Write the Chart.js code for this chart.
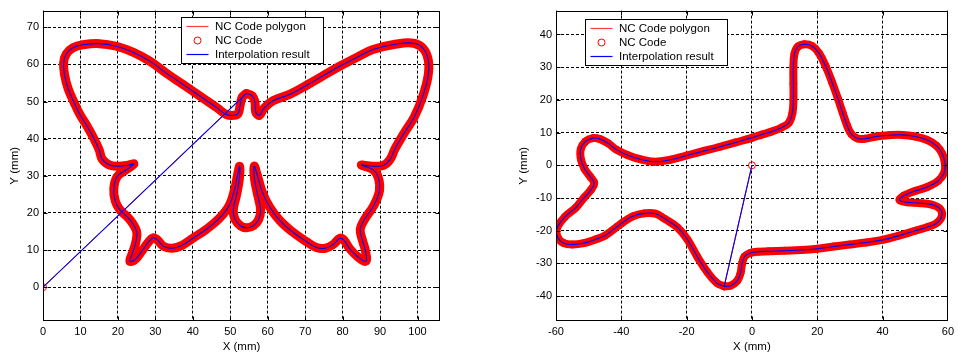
<!DOCTYPE html>
<html><head><meta charset="utf-8">
<script src="https://cdn.jsdelivr.net/npm/chart.js@4.4.1/dist/chart.umd.min.js"></script>
<style>
html,body{margin:0;padding:0;background:#fff;overflow:hidden;}
#c1{position:absolute;left:0;top:0;}
#c2{position:absolute;left:480px;top:0;}
</style></head><body>
<canvas id="c1" width="480" height="354"></canvas>
<canvas id="c2" width="478" height="354"></canvas>
<script>
// ---------- data ----------
const legendLabels = ['NC Code polygon', 'NC Code', 'Interpolation result'];
const origin = [0, 0];

// Butterfly contour (left chart)
const bfX = [54.3,53.2,52.6,52.1,51.0,49.0,46.5,44.5,41.0,37.4,33.0,28.5,24.0,19.6,15.0,10.7,8.0,6.2,5.5,5.8,6.7,8.2,9.8,11.7,13.4,15.0,15.8,17.8,20.0,22.5,24.3,22.0,19.8,18.9,19.3,20.5,23.2,25.0,24.8,24.0,23.2,24.5,26.3,28.2,29.4,30.5,32.2,34.5,37.0,40.2,43.6,47.0,49.7,51.2,51.9,52.5,52.4,51.6,50.8,51.3,52.8,54.4,56.2,57.6,58.1,57.4,56.5,56.4,57.2,58.6,60.4,63.2,66.5,70.3,73.0,75.4,77.6,79.3,80.4,81.8,83.8,86.2,86.1,85.3,84.7,86.0,88.2,89.8,89.6,88.2,85.0,88.0,90.8,92.6,94.0,96.3,99.2,101.4,102.8,102.9,101.6,99.0,94.4,88.1,84.0,79.2,74.5,70.4,66.0,61.4,59.0,57.8,56.8,56.6,55.8];
const bfY = [52.2,51.2,48.8,46.8,46.3,46.5,48.3,49.7,52.1,54.6,57.6,60.9,63.3,64.9,65.6,65.3,64.5,62.8,60.4,57.0,53.5,50.0,46.6,43.5,40.4,37.0,34.5,32.9,32.6,32.8,33.2,31.5,29.8,26.5,23.2,20.9,18.2,15.0,12.2,9.5,7.0,7.4,9.6,12.2,13.3,12.8,11.0,10.5,11.2,13.3,15.6,18.5,22.0,26.5,30.0,32.6,29.0,24.5,20.8,18.2,16.5,16.0,16.6,18.3,20.8,24.5,29.0,32.6,30.2,25.5,21.8,18.0,15.0,12.3,10.7,10.5,11.6,13.2,12.6,10.5,8.4,7.0,9.8,12.6,15.6,18.5,21.8,25.8,29.3,31.6,32.9,32.6,32.8,34.3,37.3,41.3,46.0,51.4,56.8,61.0,64.2,65.7,65.5,64.0,62.0,59.5,56.8,54.4,52.0,50.2,48.2,46.3,47.2,49.8,51.6];

// Star-like contour (right chart)
const stX = [-8.5,-6.5,-4.5,-3.5,-3.0,-2.2,-0.5,2.0,5.0,10.0,15.0,20.0,25.0,30.0,35.0,40.0,45.0,50.0,54.0,56.8,58.2,57.5,55.0,51.0,47.5,45.2,46.5,49.5,53.5,57.0,58.9,59.1,58.3,56.5,53.5,50.0,46.0,42.0,38.0,34.5,32.3,30.5,29.2,27.8,26.3,24.5,22.5,20.5,18.4,16.0,14.0,13.0,12.7,12.7,12.7,12.4,11.3,9.0,6.0,3.0,0.0,-5.0,-10.0,-15.0,-20.0,-25.0,-29.8,-34.0,-38.0,-41.5,-44.0,-46.5,-48.7,-51.0,-52.4,-52.4,-51.3,-49.5,-48.3,-49.3,-51.5,-54.0,-57.3,-59.8,-59.4,-57.6,-55.0,-51.5,-48.0,-45.0,-40.0,-36.5,-33.0,-29.5,-26.8,-22.8,-19.8,-16.7,-13.7,-10.7];
const stY = [-37.0,-36.8,-35.3,-33.0,-30.0,-27.8,-26.8,-26.4,-26.3,-26.1,-25.9,-25.5,-24.8,-24.2,-23.6,-22.8,-21.5,-20.0,-18.8,-17.5,-15.3,-13.2,-12.0,-11.5,-11.3,-10.6,-9.3,-8.0,-6.7,-4.8,-2.2,0.5,3.5,6.0,7.8,8.8,9.3,9.2,8.8,8.1,8.2,9.5,12.0,16.0,20.5,25.5,30.5,34.3,36.5,37.0,36.2,34.0,30.0,25.0,20.0,16.0,13.0,11.5,10.3,9.4,8.4,7.0,5.6,4.3,3.0,1.7,1.1,1.8,3.1,4.8,6.7,8.0,8.3,7.3,5.0,2.0,-1.0,-3.5,-5.4,-7.5,-10.0,-13.0,-15.8,-19.5,-22.2,-23.8,-24.2,-23.8,-22.7,-21.5,-17.8,-15.6,-14.7,-14.8,-16.3,-19.0,-22.6,-28.0,-32.6,-36.0];

// Tick labels
const leftXTicks = [0,10,20,30,40,50,60,70,80,90,100];
const leftYTicks = [0,10,20,30,40,50,60,70];
const rightXTicks = [-60,-40,-20,0,20,40,60];
const rightYTicks = [-40,-30,-20,-10,0,10,20,30,40];

// ---------- helpers ----------
Chart.defaults.font.family = '"Liberation Sans", Arial, Helvetica, sans-serif';
Chart.defaults.color = '#000';

function pathWithLead(xs, ys) {
  const loop = xs.map((x, i) => ({x: x, y: ys[i]}));
  loop.push({x: xs[0], y: ys[0]});
  return [{x: origin[0], y: origin[1]}, {x: xs[0], y: ys[0]}].concat(loop);
}

function makeDatasets(xs, ys, band) {
  const data = pathWithLead(xs, ys);
  return [
    { label: legendLabels[0], data: data, showLine: true, borderColor: '#ff0000', borderWidth: 1,
      pointRadius: 0, tension: 0.4, order: 1 },
    { label: legendLabels[1], data: data, showLine: true, borderColor: '#ff0000', borderWidth: band,
      borderJoinStyle: 'round', borderCapStyle: 'round', tension: 0.4,
      pointRadius: 3.5, pointBorderWidth: 1, pointBorderColor: '#ff0000', pointBackgroundColor: 'rgba(0,0,0,0)',
      segment: { borderColor: c => c.p0DataIndex === 0 ? 'rgba(0,0,0,0)' : '#ff0000' }, order: 2 },
    { label: legendLabels[2], data: data, showLine: true, borderColor: '#0000ff', borderWidth: 1.1,
      pointRadius: 0, tension: 0.4, order: 0 }
  ];
}

const frameLegend = {
  id: 'frameLegend',
  afterDraw(chart, args, opts) {
    const ctx = chart.ctx, a = chart.chartArea;
    ctx.save();
    ctx.setLineDash([]);
    ctx.strokeStyle = '#000';
    ctx.lineWidth = 1;
    const l = Math.round(a.left) + 0.5, t = Math.round(a.top) + 0.5;
    const r = Math.round(a.right) - 0.5, b = Math.round(a.bottom) - 0.5;
    ctx.strokeRect(l, t, r - l, b - t);
    // inward tick marks on all four sides
    const tl = 4;
    ctx.beginPath();
    chart.scales.x.ticks.forEach(tk => {
      const px = Math.round(chart.scales.x.getPixelForValue(tk.value)) + 0.5;
      if (px < l + 1 || px > r - 1) return;
      ctx.moveTo(px, b); ctx.lineTo(px, b - tl);
      ctx.moveTo(px, t); ctx.lineTo(px, t + tl);
    });
    chart.scales.y.ticks.forEach(tk => {
      const py = Math.round(chart.scales.y.getPixelForValue(tk.value)) + 0.5;
      if (py < t + 1 || py > b - 1) return;
      ctx.moveTo(l, py); ctx.lineTo(l + tl, py);
      ctx.moveTo(r, py); ctx.lineTo(r - tl, py);
    });
    ctx.stroke();
    // legend box
    const bx = opts.box;
    ctx.fillStyle = '#fff';
    ctx.fillRect(bx.x, bx.y, bx.w, bx.h);
    ctx.strokeRect(bx.x, bx.y, bx.w, bx.h);
    const rows = [9, 23, 37];
    ctx.font = '11.5px "Liberation Sans", Arial, sans-serif';
    ctx.textBaseline = 'middle';
    ctx.textAlign = 'left';
    chart.data.datasets.forEach((ds, i) => {
      const yy = bx.y + rows[i];
      const x0 = bx.x + 5, x1 = bx.x + 27;
      if (i === 1) {
        ctx.strokeStyle = '#ff0000';
        ctx.lineWidth = 1;
        ctx.beginPath();
        ctx.arc((x0 + x1) / 2, yy, 3.5, 0, Math.PI * 2);
        ctx.stroke();
      } else {
        ctx.strokeStyle = i === 0 ? '#ff4040' : '#0000ff';
        ctx.lineWidth = 1.2;
        ctx.beginPath();
        ctx.moveTo(x0, yy);
        ctx.lineTo(x1, yy);
        ctx.stroke();
      }
      ctx.fillStyle = '#000';
      ctx.fillText(ds.label, bx.x + 33.5, yy);
    });
    ctx.restore();
  }
};

function makeOptions(cfg) {
  const axisBase = {
    type: 'linear',
    grid: { color: '#000', lineWidth: 1, drawTicks: false },
    border: { display: false, dash: [3, 2] },
    ticks: { color: '#000', font: { size: 11 }, padding: 4, maxRotation: 0, autoSkip: false }
  };
  return {
    responsive: false, animation: false, events: [],
    layout: { padding: { top: 7, right: cfg.padRight, left: 0, bottom: 0 } },
    plugins: { legend: { display: false }, tooltip: { enabled: false }, frameLegend: { box: cfg.box } },
    scales: {
      x: Object.assign({}, axisBase, {
        position: 'bottom', min: cfg.xmin, max: cfg.xmax,
        afterBuildTicks: s => { s.ticks = cfg.xTicks.map(v => ({value: v})); },
        afterFit: s => { s.height = 33; },
        title: { display: true, text: 'X (mm)', color: '#000', font: { size: 11.5 }, padding: { top: 0, bottom: 0.6 } }
      }),
      y: Object.assign({}, axisBase, {
        position: 'left', min: cfg.ymin, max: cfg.ymax,
        afterBuildTicks: s => { s.ticks = cfg.yTicks.map(v => ({value: v})); },
        afterFit: s => { s.width = cfg.yWidth; },
        title: { display: true, text: 'Y (mm)', color: '#000', font: { size: 11.5 }, padding: { top: cfg.yTitlePad, bottom: 0 } }
      })
    }
  };
}

new Chart(document.getElementById('c1'), {
  type: 'scatter',
  data: { datasets: makeDatasets(bfX, bfY, 9) },
  options: makeOptions({ padRight: 40, xmin: 0, xmax: 106, ymin: -9.1, ymax: 74.5,
    xTicks: leftXTicks, yTicks: leftYTicks, yWidth: 43, yTitlePad: 8.1,
    box: { x: 181.5, y: 17.5, w: 142, h: 46 } }),
  plugins: [frameLegend]
});

new Chart(document.getElementById('c2'), {
  type: 'scatter',
  data: { datasets: makeDatasets(stX, stY, 8) },
  options: makeOptions({ padRight: 5, xmin: -60, xmax: 60, ymin: -47.6, ymax: 47.3,
    xTicks: rightXTicks, yTicks: rightYTicks, yWidth: 76, yTitlePad: 37.1,
    box: { x: 105.5, y: 19.5, w: 142, h: 46 } }),
  plugins: [frameLegend]
});
</script>
</body></html>
